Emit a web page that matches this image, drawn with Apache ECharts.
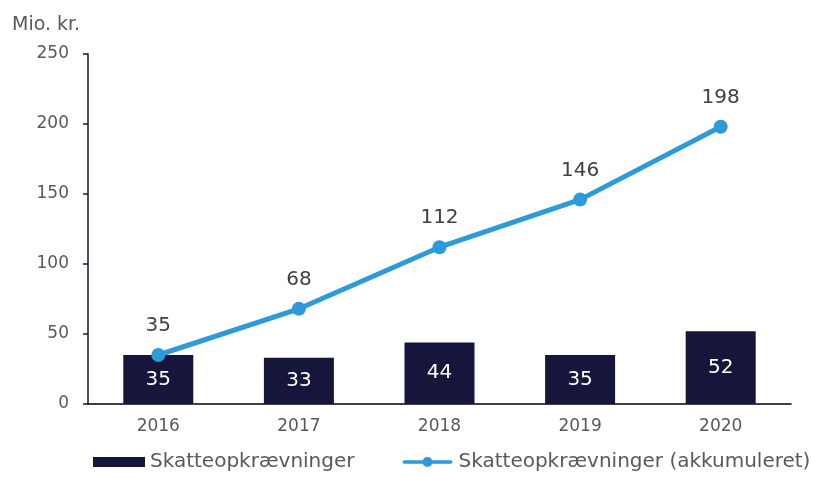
<!DOCTYPE html>
<html>
<head>
<meta charset="utf-8">
<script src="https://cdn.jsdelivr.net/npm/echarts@6/dist/echarts.min.js"></script>
<style>
  html, body { margin: 0; padding: 0; background: #fff; }
  #chart { width: 813px; height: 478px; }
</style>
</head>
<body>
<div id="chart"></div>
<script>
var years = ['2016', '2017', '2018', '2019', '2020']
var yearly = [35, 33, 44, 35, 52]
var cumulative = [35, 68, 112, 146, 198]
var yTicks = [0, 50, 100, 150, 200, 250]

var TEXT_COLOR = '#595959'
var NAVY = '#16163c'
var BLUE = '#2f9ad9'
var FONT = '"DejaVu Sans", sans-serif'
// line + dot legend marker, stretched to itemWidth x itemHeight
var LINE_ICON = 'path://M2,3.5 L23,3.5 L23,7.5 L2,7.5 A2,2 0 0 1 2,3.5 Z ' +
  'M32,3.5 L53,3.5 A2,2 0 0 1 53,7.5 L32,7.5 Z ' +
  'M22,5.5 A5.5,5.5 0 1 1 33,5.5 A5.5,5.5 0 1 1 22,5.5 Z'

var chart = echarts.init(document.getElementById('chart'))
chart.setOption({
  backgroundColor: '#fff',
  animation: false,
  textStyle: { fontFamily: FONT },
  graphic: [
    {
      type: 'text',
      left: 12,
      top: 16,
      style: { text: 'Mio. kr.', fill: TEXT_COLOR, font: '19px ' + FONT }
    }
  ],
  legend: {
    left: 88,
    bottom: 1,
    width: 760,
    itemGap: 48,
    itemWidth: 52,
    itemHeight: 10,
    textStyle: { color: TEXT_COLOR, fontSize: 20, fontFamily: FONT },
    data: [
      { name: 'Skatteopkrævninger', icon: 'rect' },
      { name: 'Skatteopkrævninger (akkumuleret)', icon: LINE_ICON }
    ]
  },
  grid: {
    left: 88,
    right: 22,
    top: 54,
    bottom: 74
  },
  xAxis: {
    type: 'category',
    data: years,
    axisLine: { lineStyle: { color: '#000', width: 1.5 } },
    axisTick: { show: false },
    axisLabel: { color: TEXT_COLOR, fontSize: 17, margin: 14 }
  },
  yAxis: {
    type: 'value',
    min: yTicks[0],
    max: yTicks[yTicks.length - 1],
    interval: 50,
    axisLine: { show: true, lineStyle: { color: NAVY, width: 1.5 } },
    axisTick: { show: true, length: 5, lineStyle: { color: NAVY, width: 1.5 } },
    splitLine: { show: false },
    axisLabel: { color: TEXT_COLOR, fontSize: 17, margin: 19 }
  },
  series: [
    {
      name: 'Skatteopkrævninger',
      type: 'bar',
      data: yearly,
      barWidth: 70,
      itemStyle: { color: NAVY },
      label: {
        show: true,
        position: 'inside',
        color: '#fff',
        fontSize: 20
      }
    },
    {
      name: 'Skatteopkrævninger (akkumuleret)',
      type: 'line',
      data: cumulative,
      symbol: 'circle',
      symbolSize: 14,
      lineStyle: { color: BLUE, width: 5 },
      itemStyle: { color: BLUE },
      label: {
        show: true,
        position: 'top',
        distance: 12,
        color: '#404040',
        fontSize: 20
      }
    }
  ]
})
</script>
</body>
</html>
